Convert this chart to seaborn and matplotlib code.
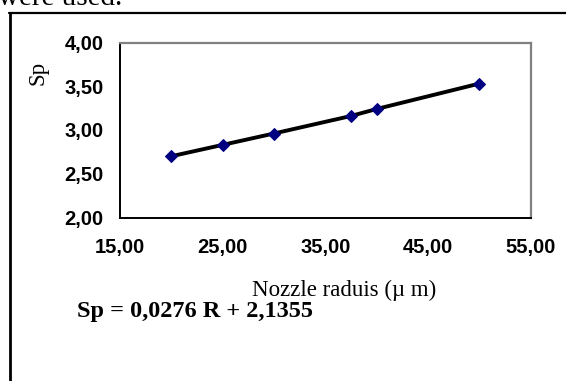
import matplotlib
matplotlib.use("Agg")
import matplotlib.pyplot as plt
from matplotlib.lines import Line2D
import seaborn as sns
import pandas as pd

# Measured spreading parameter versus nozzle radius
radius_um = [20.0, 25.0, 30.0, 37.5, 40.0, 50.0]
sp_values = [2.70, 2.83, 2.96, 3.16, 3.24, 3.53]

x_ticks = [15, 25, 35, 45, 55]
y_ticks = [2.0, 2.5, 3.0, 3.5, 4.0]

df = pd.DataFrame({"R": radius_um, "Sp": sp_values})

sns.set_theme(style="white")
plt.rcParams["font.family"] = ["Liberation Sans", "DejaVu Sans"]

W, H = 566, 381
fig = plt.figure(figsize=(W / 100, H / 100), dpi=100)
fig.patch.set_facecolor("white")

ax = fig.add_axes([120 / W, 1 - 217.5 / H, (530.5 - 120) / W, (217.5 - 42.5) / H])
ax.set_facecolor("white")

sns.lineplot(data=df, x="R", y="Sp", ax=ax, color="black", linewidth=2.8,
             marker="D", markersize=6, markerfacecolor="#000080",
             markeredgecolor="#000080", zorder=3)

ax.set_xlim(15, 55)
ax.set_ylim(2, 4)
ax.set_xticks(x_ticks)
ax.set_yticks(y_ticks)
ax.set_xticklabels([f"{v:.2f}".replace(".", ",") for v in x_ticks])
ax.set_yticklabels([f"{v:.2f}".replace(".", ",") for v in y_ticks])
ax.set_xlabel("")
ax.set_ylabel("")

for side in ("left", "bottom"):
    ax.spines[side].set_color("black")
    ax.spines[side].set_linewidth(1.4)
for side in ("top", "right"):
    ax.spines[side].set_color("#808080")
    ax.spines[side].set_linewidth(1.6)

ax.tick_params(axis="both", direction="in", length=4.5, width=1.0, color="black",
               labelsize=14.5, labelcolor="black")
ax.tick_params(axis="y", pad=12)
ax.tick_params(axis="x", pad=15)
for lab in ax.get_xticklabels() + ax.get_yticklabels():
    lab.set_fontweight("bold")

serif = ["Liberation Serif", "DejaVu Serif"]

fig.text(38 / W, 1 - 73 / H, "Sp", rotation=90, ha="center", va="center",
         fontsize=16.5, family=serif, color="black")
fig.text(344 / W, 1 - 296 / H, "Nozzle raduis (µ m)", ha="center", va="baseline",
         fontsize=16.5, family=serif, color="black")
fig.text(77 / W, 1 - 317 / H, "Sp = 0,0276 R + 2,1355", ha="left", va="baseline",
         fontsize=17.5, family=serif, fontweight="bold", color="black")
fig.text(-2 / W, 1 - 5 / H, "were used.", ha="left", va="baseline",
         fontsize=21, family=serif, color="black")

# frame around the chart object
fig.add_artist(Line2D([8.5 / W, 1.0], [1 - 13 / H, 1 - 13 / H], color="black",
                      linewidth=1.6, transform=fig.transFigure))
fig.add_artist(Line2D([9.5 / W, 9.5 / W], [0.0, 1 - 13 / H], color="black",
                      linewidth=2.0, transform=fig.transFigure))

fig.savefig("out.png", dpi=100, facecolor="white")
